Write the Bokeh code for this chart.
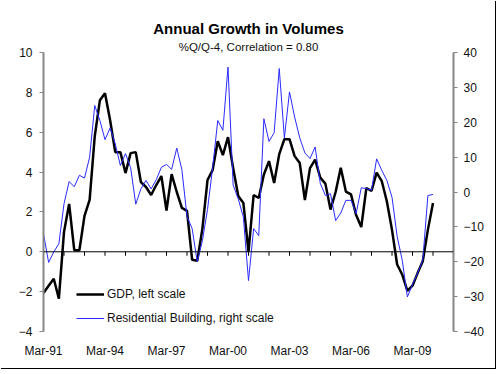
from bokeh.plotting import figure
from bokeh.models import (Range1d, LinearAxis, FixedTicker, Span, Title, Legend, LegendItem)
from bokeh.embed import file_html
from bokeh.resources import INLINE

# ---- data (quarterly, Mar-91 .. Mar-10) ----
gdp = [-2.07, -1.7, -1.35, -2.35, 1.0, 2.4, 0.08, 0.08, 1.8, 2.6,
       5.8, 7.6, 7.95, 6.6, 5.0, 5.0, 3.95, 4.95, 5.0, 3.5,
       3.25, 2.85, 3.35, 3.8, 2.07, 3.9, 3.0, 2.2, 2.05, -0.4,
       -0.45, 1.15, 3.6, 4.1, 5.55, 4.85, 5.75, 4.2, 2.8, 2.45,
       0.0, 2.85, 2.7, 3.88, 4.55, 3.45, 4.9, 5.65, 5.65, 4.8,
       4.45, 2.6, 4.2, 4.62, 3.72, 3.42, 2.12, 3.0, 4.22, 3.02,
       2.88, 1.84, 1.24, 3.2, 3.05, 3.97, 3.55, 2.52, 1.1, -0.64,
       -1.15, -1.96, -1.7, -1.07, -0.48, 1.1, 2.45]
res_building = [-12.0, -20.2, -17.2, -14.8, -3.4, 3.0, 1.5, 4.8, 4.0, 10.0,
                24.8, 20.5, 15.0, 18.4, 13.8, 7.6, 11.0, 7.0, -3.5, 0.9,
                3.3, 0.9, 3.5, 7.1, 7.9, 6.5, 12.6, 6.4, -7.0, -10.5,
                -20.0, -14.0, -5.0, 7.0, 20.5, 17.7, 35.8, 2.0, -2.0, -7.2,
                -25.4, -10.5, -12.5, 21.0, 14.5, 17.0, 35.4, 15.5, 28.7, 21.5,
                15.5, 11.2, 9.6, 12.9, 2.5, -1.0, -0.5, -8.2, -6.0, -2.4,
                -2.4, -6.2, 1.2, 1.0, 0.5, 9.5, 6.2, 3.3, -1.5, -12.7,
                -19.6, -30.1, -26.5, -23.2, -19.6, -1.0, -0.7]
x_tick_labels = ["Mar-91", "Mar-94", "Mar-97", "Mar-00", "Mar-03", "Mar-06", "Mar-09"]
left_ticks = [-4, -2, 0, 2, 4, 6, 8, 10]
right_ticks = [-40, -30, -20, -10, 0, 10, 20, 30, 40]
n_categories = 81  # Mar-91 .. Mar-11 on the category axis

quarters = list(range(len(gdp)))
label_pos = [(int(s[-2:]) - 91 if int(s[-2:]) > 50 else int(s[-2:]) + 9) * 4 for s in x_tick_labels]
year_ticks = list(range(4, n_categories - 1, 4))

FONT = "Liberation Sans"
AXIS_GRAY = "#868686"
TEXT = "#111111"

p = figure(width=495, height=368, output_backend="svg", toolbar_location=None,
           x_range=Range1d(0, n_categories - 1), y_range=Range1d(left_ticks[0], left_ticks[-1]),
           min_border_left=43, min_border_right=42, min_border_top=52, min_border_bottom=37,
           title=None, background_fill_color="white", border_fill_color="white")
p.styles = {"box-shadow": "1px 1px 0 0 #000000"}
p.outline_line_color = None
p.xgrid.visible = False
p.ygrid.visible = False

p.extra_y_ranges = {"right": Range1d(right_ticks[0], right_ticks[-1])}

# titles
p.add_layout(Title(text="%Q/Q-4, Correlation = 0.80", align="center", text_font=FONT,
                   text_font_size="11.5px", text_font_style="normal", text_color=TEXT,
                   standoff=0), "above")
p.add_layout(Title(text="Annual Growth in Volumes", align="center", text_font=FONT,
                   text_font_size="15px", text_font_style="bold", text_color="black",
                   standoff=3), "above")

# left axis
ya = p.yaxis[0]
ya.ticker = FixedTicker(ticks=left_ticks)
ya.axis_line_color = AXIS_GRAY
ya.axis_line_width = 2
ya.major_tick_line_color = AXIS_GRAY
ya.major_tick_in = 0
ya.major_tick_out = 4
ya.minor_tick_line_color = None
ya.major_label_standoff = 7
ya.major_label_text_font = FONT
ya.major_label_text_font_size = "12px"
ya.major_label_text_color = TEXT

# right axis
ra = LinearAxis(y_range_name="right", ticker=FixedTicker(ticks=right_ticks))
ra.axis_line_color = AXIS_GRAY
ra.axis_line_width = 2
ra.major_tick_line_color = AXIS_GRAY
ra.major_tick_in = 0
ra.major_tick_out = 4
ra.minor_tick_line_color = None
ra.major_label_standoff = 6
ra.major_label_text_font = FONT
ra.major_label_text_font_size = "12px"
ra.major_label_text_color = TEXT
p.add_layout(ra, "right")

# bottom axis (labels only)
xa = p.xaxis[0]
xa.ticker = FixedTicker(ticks=label_pos)
xa.major_label_overrides = {pos: lab for pos, lab in zip(label_pos, x_tick_labels)}
xa.axis_line_color = None
xa.major_tick_line_color = None
xa.minor_tick_line_color = None
xa.major_tick_out = 0
xa.major_label_standoff = 12
xa.major_label_text_font = FONT
xa.major_label_text_font_size = "12px"
xa.major_label_text_color = TEXT

# zero line with yearly ticks
p.add_layout(Span(location=0, dimension="width", line_color="black", line_width=1))
p.segment(x0=year_ticks, y0=[0] * len(year_ticks), x1=year_ticks, y1=[-0.2] * len(year_ticks),
          line_color="black", line_width=1)

# series
r_gdp = p.line(quarters, gdp, line_color="black", line_width=2.5)
r_res = p.line(quarters, res_building, line_color="#2a2aff", line_width=1, y_range_name="right")

legend = Legend(items=[LegendItem(label="GDP, left scale", renderers=[r_gdp]),
                       LegendItem(label="Residential Building, right scale", renderers=[r_res])],
                location=(33, 6), orientation="vertical")
legend.background_fill_color = "white"
legend.background_fill_alpha = 1.0
legend.border_line_color = None
legend.padding = 5
legend.margin = 0
legend.spacing = 10
legend.glyph_width = 28
legend.glyph_height = 14
legend.label_height = 14
legend.label_standoff = 3
legend.label_text_font = FONT
legend.label_text_font_size = "12px"
legend.label_text_color = TEXT
p.add_layout(legend, "center")

open("out.html", "w").write(file_html(p, INLINE))
